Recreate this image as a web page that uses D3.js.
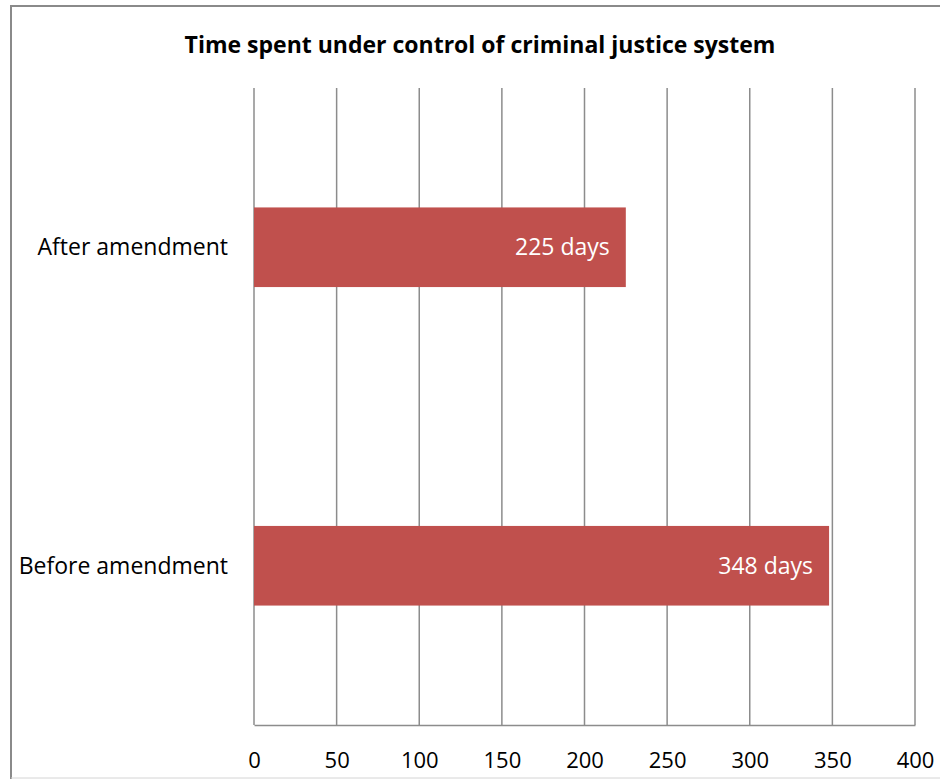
<!DOCTYPE html>
<html lang="en">
<head>
  <meta charset="UTF-8">
  <title>Time spent under control of criminal justice system</title>
  <script src="https://d3js.org/d3.v7.min.js"></script>
  <style>
    body {
      margin: 0;
      padding: 0;
      background: #fff;
      font-family: 'Open Sans', 'Noto Sans', sans-serif;
    }
  </style>
</head>
<body>
  <svg id="chart"></svg>

  <script>
    // chart data
    const categories = ["After amendment", "Before amendment"];
    const days = [225, 348];
    const labels = ["225 days", "348 days"];
    const tickValues = [0, 50, 100, 150, 200, 250, 300, 350, 400];

    const width = 940, height = 779;
    const margin = { top: 88, right: 25, bottom: 54, left: 254 };

    const svg = d3.select("#chart").attr("width", width).attr("height", height);

    // outer frame (left + top darker, bottom light)
    svg.append("line").attr("x1", 11).attr("x2", 11).attr("y1", 5).attr("y2", 779)
      .attr("stroke", "#8a8a8a").attr("stroke-width", 2);
    svg.append("line").attr("x1", 10).attr("x2", 940).attr("y1", 6).attr("y2", 6)
      .attr("stroke", "#8a8a8a").attr("stroke-width", 2);
    svg.append("line").attr("x1", 11).attr("x2", 940).attr("y1", 778).attr("y2", 778)
      .attr("stroke", "#d4d4d4").attr("stroke-width", 1);

    svg.append("text")
      .attr("x", 480)
      .attr("y", 53)
      .attr("text-anchor", "middle")
      .attr("font-weight", "bold")
      .attr("font-size", "23px")
      .attr("fill", "#000")
      .text("Time spent under control of criminal justice system");

    const x = d3.scaleLinear()
      .domain([0, 400])
      .range([margin.left, width - margin.right]);

    const y = d3.scaleBand()
      .domain(categories)
      .range([margin.top, height - margin.bottom])
      .paddingInner(0.75)
      .paddingOuter(0.375);

    // gridlines
    svg.append("g")
      .selectAll("line")
      .data(tickValues)
      .join("line")
      .attr("x1", d => x(d))
      .attr("x2", d => x(d))
      .attr("y1", margin.top)
      .attr("y2", height - margin.bottom)
      .attr("stroke", "#8c8c8c")
      .attr("stroke-width", 1.5);

    // x axis
    const xAxis = svg.append("g")
      .attr("transform", `translate(0,${height - margin.bottom})`)
      .call(d3.axisBottom(x).tickValues(tickValues).tickSize(0).tickPadding(27));
    xAxis.select(".domain").attr("stroke", "#8c8c8c").attr("stroke-width", 1.5);
    xAxis.selectAll("text")
      .attr("font-family", "'Open Sans', 'Noto Sans', sans-serif")
      .attr("font-size", "22px")
      .attr("fill", "#000");

    // category labels
    svg.append("g")
      .selectAll("text")
      .data(categories)
      .join("text")
      .attr("x", margin.left - 26)
      .attr("y", d => y(d) + y.bandwidth() / 2)
      .attr("dy", "0.35em")
      .attr("text-anchor", "end")
      .attr("font-size", "23px")
      .attr("fill", "#000")
      .text(d => d);

    // bars
    svg.append("g")
      .selectAll("rect")
      .data(categories)
      .join("rect")
      .attr("x", x(0))
      .attr("y", d => y(d))
      .attr("width", (d, i) => x(days[i]) - x(0))
      .attr("height", y.bandwidth())
      .attr("fill", "#c0504d");

    // value labels
    svg.append("g")
      .selectAll("text")
      .data(categories)
      .join("text")
      .attr("x", (d, i) => x(days[i]) - 16)
      .attr("y", d => y(d) + y.bandwidth() / 2)
      .attr("dy", "0.35em")
      .attr("text-anchor", "end")
      .attr("font-size", "23px")
      .attr("fill", "#fff")
      .text((d, i) => labels[i]);
  </script>
</body>
</html>
